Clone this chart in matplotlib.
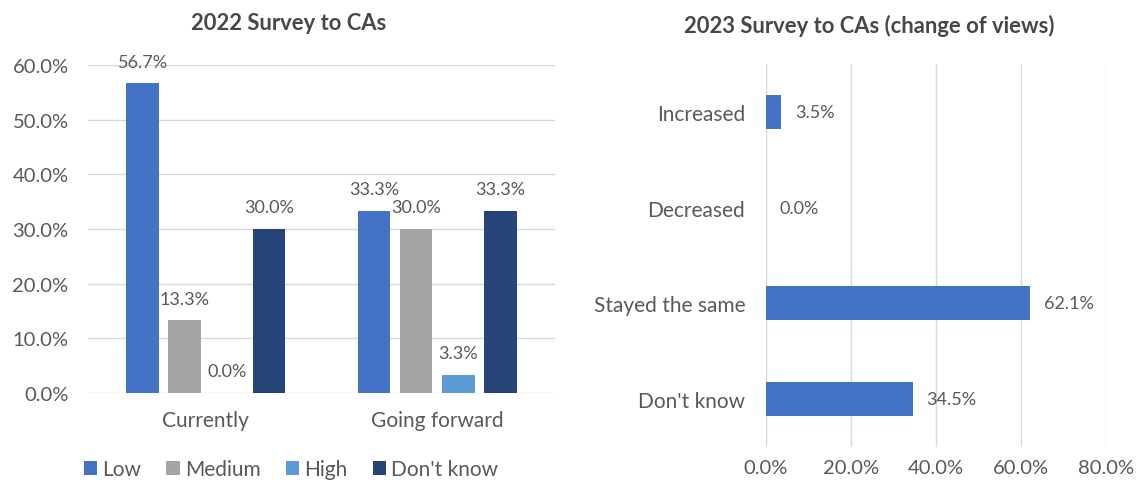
import matplotlib
matplotlib.use("Agg")
import matplotlib.pyplot as plt
from matplotlib.patches import Patch
import numpy as np

plt.rcParams['font.family'] = ['Lato', 'DejaVu Sans']

# ---- data ----
groups = ["Currently", "Going forward"]
series_names = ["Low", "Medium", "High", "Don't know"]
low = [56.7, 33.3]
medium = [13.3, 30.0]
high = [0.0, 3.3]
dont_know = [30.0, 33.3]
left_yticks = [0, 10, 20, 30, 40, 50, 60]

change_cats = ["Increased", "Decreased", "Stayed the same", "Don't know"]
change_vals = [3.5, 0.0, 62.1, 34.5]
right_xticks = [0, 20, 40, 60, 80]

colors = ["#4472C4", "#A5A5A5", "#5B9BD5", "#264478"]
txt = "#595959"
title_c = "#474747"
grid = "#D9D9D9"

W, H = 1144, 485
fig = plt.figure(figsize=(W / 100, H / 100), dpi=100)

def ax_rect(x0, y0, x1, y1):
    return [x0 / W, 1 - y1 / H, (x1 - x0) / W, (y1 - y0) / H]

# ---- left chart ----
ax1 = fig.add_axes(ax_rect(88, 66, 555, 394))
series = [low, medium, high, dont_know]
x = np.arange(len(groups))
bw = 0.142
step = 0.182
for i, vals in enumerate(series):
    pos = x + (i - 1.5) * step
    ax1.bar(pos, vals, width=bw, color=colors[i], zorder=3)
    for p, v in zip(pos, vals):
        ax1.annotate(f"{v:.1f}%", (p, v), xytext=(0, 15.5), textcoords="offset points",
                     ha="center", va="center", fontsize=13, color=txt)
ax1.set_xlim(-0.5 - 0.01, 1.5 + 0.01)
ax1.set_ylim(0, 60)
ax1.set_yticks(left_yticks)
ax1.set_yticklabels([f"{t:.1f}%" for t in left_yticks])
ax1.set_xticks(x)
ax1.set_xticklabels(groups)
ax1.grid(axis="y", color=grid, linewidth=1, zorder=0)
for s in ax1.spines.values():
    s.set_visible(False)
ax1.tick_params(axis="y", length=0, pad=14, labelsize=14.5, labelcolor=txt)
ax1.tick_params(axis="x", length=0, pad=12, labelsize=15, labelcolor=txt)

fig.text(289 / W, 1 - 24 / H, "2022 Survey to CAs", ha="center", va="center",
         fontsize=15.8, fontweight="bold", color=title_c)

handles = [Patch(facecolor=c, edgecolor="none") for c in colors]
fig.legend(handles, series_names, loc="center", bbox_to_anchor=(291 / W, 1 - 470 / H),
           ncol=4, frameon=False, fontsize=15, labelcolor=txt,
           handlelength=0.65, handleheight=0.65, handletextpad=0.25, columnspacing=1.2)

# ---- right chart ----
ax2 = fig.add_axes(ax_rect(766, 65, 1106, 448))
y = np.arange(len(change_cats))
ax2.barh(y, change_vals, height=0.355, color=colors[0], zorder=3)
for yy, v in zip(y, change_vals):
    ax2.annotate(f"{v:.1f}%", (v, yy), xytext=(10, 0), textcoords="offset points",
                 ha="left", va="center", fontsize=13, color=txt)
ax2.set_ylim(len(change_cats) - 0.5, -0.5)
ax2.set_xlim(0, 80)
ax2.set_xticks(right_xticks)
ax2.set_xticklabels([f"{t:.1f}%" for t in right_xticks])
ax2.set_yticks(y)
ax2.set_yticklabels(change_cats)
ax2.grid(axis="x", color=grid, linewidth=1, zorder=0)
for s in ax2.spines.values():
    s.set_visible(False)
ax2.tick_params(axis="y", length=0, pad=15, labelsize=15, labelcolor=txt)
ax2.tick_params(axis="x", length=0, pad=9, labelsize=14.5, labelcolor=txt)

fig.text(869 / W, 1 - 26 / H, "2023 Survey to CAs (change of views)", ha="center", va="center",
         fontsize=15.8, fontweight="bold", color=title_c)

fig.savefig("out.png", dpi=100, facecolor="white")
